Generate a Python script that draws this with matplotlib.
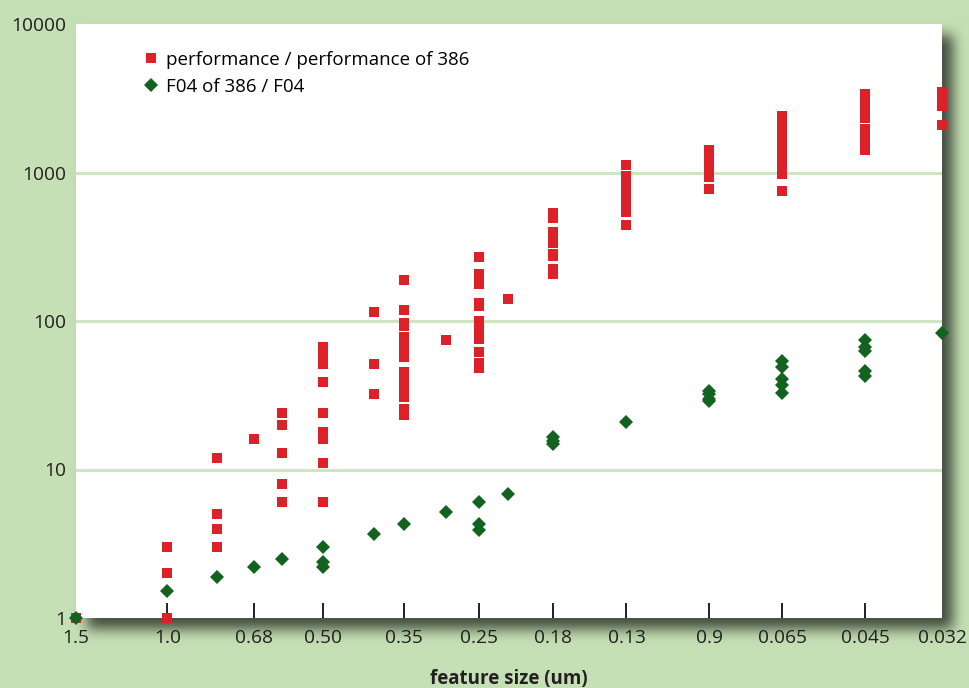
import numpy as np
import matplotlib.pyplot as plt

plt.rcParams['font.family'] = ['Open Sans', 'DejaVu Sans']

# feature size of each process node (um)
sizes = [1.5, 1.0, 0.8, 0.68, 0.6, 0.5, 0.4, 0.35, 0.29, 0.25, 0.22, 0.18,
         0.13, 0.09, 0.065, 0.045, 0.032]

# performance relative to the 386, one list per node
perf_values = [
    [1],
    [3, 2, 1],
    [12, 5, 4, 3],
    [16],
    [24, 20, 13, 8, 6],
    [67, 57, 51, 39, 24, 18, 16, 11, 6],
    [115, 51, 32],
    [190, 119, 97, 93, 78, 67, 57, 45.5, 41, 37, 33.5, 31, 25.6, 23.2],
    [74],
    [270, 208, 178, 132, 127, 100, 94, 85, 76, 62, 52, 48],
    [140],
    [533, 493, 397, 359, 333, 283, 272, 224, 206],
    [1125, 946, 840, 756, 678, 608, 544, 444],
    [1415, 1279, 1148, 1030, 930, 780],
    [2395, 2133, 1914, 1718, 1541, 1383, 1241, 1114, 983, 752],
    [3366, 3047, 2731, 2490, 2340, 1958, 1770, 1588, 1426],
    [3472, 3138, 2818, 2089],
]

# FO4 delay of the 386 divided by FO4 delay
fo4_values = [
    [1],
    [1.53],
    [1.88],
    [2.2],
    [2.5],
    [3.0, 2.4, 2.2],
    [3.7],
    [4.3],
    [5.2],
    [6.0, 4.3, 3.9],
    [6.8],
    [16.5, 15.5, 14.8],
    [21],
    [34, 32, 30, 28.8],
    [54, 49, 41, 37, 33],
    [74, 67, 62.5, 46, 42.7],
    [83],
]

tick_sizes = [1.5, 1.0, 0.68, 0.5, 0.35, 0.25, 0.18, 0.13, 0.09, 0.065, 0.045, 0.032]
tick_labels = ['1.5', '1.0', '0.68', '0.50', '0.35', '0.25', '0.18', '0.13',
               '0.9', '0.065', '0.045', '0.032']

perf_x = [s for s, v in zip(sizes, perf_values) for _ in v]
perf_y = [y for v in perf_values for y in v]
fo4_x = [s for s, v in zip(sizes, fo4_values) for _ in v]
fo4_y = [y for v in fo4_values for y in v]

bg = np.array([197, 224, 180]) / 255
shade = np.array([55, 64, 50]) / 255
red = '#dc2129'
green = '#14621f'

W, H = 969, 688
fig = plt.figure(figsize=(W / 100, H / 100), dpi=100)
fig.patch.set_facecolor(bg)
left, right, top, bottom = 76, 942, 24, 618
ax = fig.add_axes([left / W, 1 - bottom / H, (right - left) / W, (bottom - top) / H])
ax.set_zorder(2)


# soft drop shadow behind the white plot area
def blur(a, sigma):
    r = int(3 * sigma)
    k = np.exp(-0.5 * (np.arange(-r, r + 1) / sigma) ** 2)
    k /= k.sum()
    a = np.apply_along_axis(lambda v: np.convolve(v, k, mode='same'), 0, a)
    return np.apply_along_axis(lambda v: np.convolve(v, k, mode='same'), 1, a)


off = 11
mask = np.zeros((H, W))
mask[top + off:bottom + off, left + off:right + off] = 1.0
alpha = 0.92 * blur(mask, 6.5)[..., None]
img = bg * (1 - alpha) + shade * alpha
fig.figimage(img, 0, 0, origin='upper', zorder=-1)

ax.set_facecolor('white')
for sp in ax.spines.values():
    sp.set_visible(False)

ax.plot(perf_x, perf_y, linestyle='none', marker='s', markersize=6.6,
        markeredgewidth=0, color=red, clip_on=False, zorder=3,
        label='performance / performance of 386')
ax.plot(fo4_x, fo4_y, linestyle='none', marker='D', markersize=7.0,
        markeredgewidth=0, color=green, clip_on=False, zorder=4,
        label='F04 of 386 / F04')

ax.set_xscale('log')
ax.set_yscale('log')
ax.set_xlim(1.5, 0.032)
ax.set_ylim(1, 10000)

ax.set_yticks([1, 10, 100, 1000, 10000])
ax.set_yticklabels(['1', '10', '100', '1000', '10000'])
ax.yaxis.set_minor_locator(plt.NullLocator())
ax.tick_params(axis='y', length=0, pad=7, labelsize=13.8, labelcolor='#231f20')

ax.set_xticks(tick_sizes)
ax.set_xticklabels(tick_labels)
ax.xaxis.set_minor_locator(plt.NullLocator())
ax.tick_params(axis='x', direction='in', length=11, width=1.4, color='#231f20',
               pad=8, labelsize=13.8, labelcolor='#231f20')
for t in (ax.xaxis.get_major_ticks()[0], ax.xaxis.get_major_ticks()[-1]):
    t.tick1line.set_visible(False)

for yv in [10, 100, 1000]:
    ax.axhline(yv, color='#cfe5c2', linewidth=2.2, zorder=1)

ax.set_xlabel('feature size (um)', fontsize=13.5, fontweight='bold',
              color='#231f20', labelpad=16)

ax.legend(loc='upper left', bbox_to_anchor=(0.07, 0.968), frameon=False,
          fontsize=13.5, handlelength=0.7, handletextpad=0.45,
          labelspacing=0.5, borderaxespad=0)

fig.savefig('out.png', dpi=100)
